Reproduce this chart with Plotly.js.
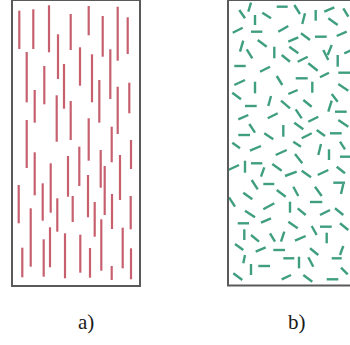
<!DOCTYPE html>
<html>
<head>
<meta charset="utf-8">
<script src="https://cdn.plot.ly/plotly-3.0.1.min.js"></script>
<style>html,body{margin:0;padding:0;background:#fff;}#chart{width:350px;height:345px;}</style>
</head>
<body>
<div id="chart"></div>
<script>
// a) aligned fibres: x position, top y, bottom y (picture units, y grows downward)
const redX = [19.3,33.3,49,70.7,88.7,102.7,117.7,127.7,26.7,58,44.3,80,64,92,110.3,34.7,99.3,129.3,56.7,70.7,117.7,26.7,88.7,111.7,131,79.3,100.7,34.7,18.7,42.7,50.7,68,57.3,72.7,88,104.7,120,112,130.7,30.7,94.7,22.3,43.7,50,65,80.3,90,101.3,111.7,122.7,131];
const redTop = [10.7,9.3,5.3,14,6,16,6.7,17.3,52,34.3,66,47.3,64,54.3,49.3,90,80,82.7,95.3,101,86.7,120,118.3,126.7,140,146.7,150,152.3,185,183.3,163.3,156,198.3,196,175,166,155,194,196,208.3,202,247.7,239.3,227.3,233.3,234.7,248,219.3,266,227.7,248.3];
const redBot = [49,49,52.3,50,35.3,56.7,60.7,54,102.3,79,104.3,85.7,108.7,102.3,99,122.7,122.7,113.3,141.7,140,134,168,160.7,162.3,169,186,187.7,195.3,223.3,220.7,212.7,196.7,231.7,222,217.3,215,200,229,229.3,266.7,236.7,277.3,276.7,267.3,278.3,272.7,277.7,270.7,280,268.3,279.3];

// b) random fibres: start and end points
const grnX0 = [239.3,251,255,262.3,276.7,294.3,305,315.7,324.3,343.3,328.3,232.7,251,278.3,288.3,301,315,336.7,243.3,246.7,257.7,274.3,289.3,281.7,297.7,308.3,323.3,331.7,337.7,344.3,234.3,260,276.7,295.7,320,338.3,234.3,255,312.3,288.3,338.3,232.3,245,271,281,303.3,331.7,331.7,335,238.3,267.7,295.7,308.3,249.3,283.3,294.3,338.3,238.3,264.3,301.7,316.7,330,
  232.3,250,275.7,293.3,321,329,340,340,295,228.3,245,251,264.3,272.3,285,301.7,317.7,336.7,251.7,263.3,276.7,293.3,315,333.3,343.3,229,243.3,310,263.3,290,297.7,320,335,245,237.7,261,288.3,311.7,320,340,244.3,251,270,284.3,295,326.7,235,255.7,273.3,310,343.3,245,283.3,299,308.3,331.7,251,258.3,233.3,281.7,303.3,326.7,341];
const grnY0 = [10,2.7,15,12.7,6.7,5,13.3,10,11.7,8.3,18.3,32.7,31.7,31.7,41.7,33.3,36.7,36,40.7,49.3,40,46.7,46.7,55,61.7,63.3,50,45,55,53.3,66,71.7,76,78.3,77.3,72.7,85,81.7,81.7,94,84,92.7,106,96,100.7,100,100.7,94,111.7,119.3,118.3,109.3,121.7,124,125,122.7,120,135,133.3,138.3,130,133.3,
  142.7,150.7,155,141.7,144,149.3,141.7,156.7,154,170,160.7,163.3,167.3,164,176,170.7,175,166.7,180,184,190,186.7,186.7,182.7,184,197.3,192.7,202,209.3,201.7,208.3,215,208.3,210.7,223.3,222.7,221.7,226,226.7,223.3,229.3,235,233.3,231.7,240.7,232.7,244,251.7,250,248.3,246,255,258.3,256.7,257.3,258.3,264,266,273.3,279.3,275,279.3,267.7];
const grnX1 = [245,248.3,255,271,287.7,300,302.3,315.7,334.3,348.3,337.7,242.7,262.3,288.3,298.3,310,326.7,346.7,240,252.3,266.7,274.3,298.3,290,307.7,317.7,328.3,327.7,337.7,351.7,245.7,270,282.3,307.7,329,351.7,245,255,312.3,297.7,348.3,241,256.7,268.3,290,311.7,328.3,337.7,346.7,248.3,277.7,301.7,318.3,255,283.3,303.3,348.3,250,273.3,311.7,325,341.7,
  240,261,286.7,301,318.3,329,345,351.7,302.3,239,245,262.3,261,281.7,296.7,311,328.3,345,257.7,274.3,285.7,298.3,321.7,345,341,235,252.3,322.3,274.3,290,305.7,330,343.3,255,249,271,297.7,316.7,331.7,348.3,244.3,259,275,281,305.7,326.7,243.3,265.7,285,318.3,340,243.3,294.3,299,313.3,341.7,251,270,242.3,291,312.3,338.3,347.7];
const grnY1 = [18.3,11.7,25,18.3,6.7,14,24,20.7,7.3,16.7,25,27.7,31.7,26,37.3,40,36.7,31.7,51.7,58.3,46.7,58.3,53.3,61.7,56.7,70.7,60,55,66.7,50,66,66.7,85,78.3,72.7,72.7,80,93.3,92.7,90,90.7,99.3,106,106,108.3,106.7,111.7,101.7,111.7,115,113.3,118.3,116.7,132.7,136.7,129.3,126.7,135,139.3,133.3,136,133.3,
  148.3,146,150,146.7,155,160,149.3,156.7,163.3,165,172.7,163.3,176.7,170.7,171.7,177.3,170,173.3,189.3,184,196.7,196,196,182.7,194,206.7,199.3,202,203.3,212.7,215,210,215,217.3,223.3,218.3,228.3,235,226.7,230,240,241.7,241.7,241.7,236,243.3,250,247.3,250,255,255,263.3,258.3,268.3,266.7,258.3,275,266,280,275,281.7,279.3,274.3];

const labels = ['a)', 'b)'];

function vertSegments(xs, y0s, y1s) {
  const x = [], y = [];
  xs.forEach((v, i) => { x.push(v, v, null); y.push(y0s[i], y1s[i], null); });
  return {x, y};
}
function segs(x0s, y0s, x1s, y1s) {
  const x = [], y = [];
  x0s.forEach((v, i) => { x.push(v, x1s[i], null); y.push(y0s[i], y1s[i], null); });
  return {x, y};
}
const r = vertSegments(redX, redTop, redBot);
const g = segs(grnX0, grnY0, grnX1, grnY1);

const data = [
  {type: 'scatter', mode: 'lines', x: r.x, y: r.y, connectgaps: false,
   line: {color: '#c6606f', width: 2.2}, hoverinfo: 'skip'},
  {type: 'scatter', mode: 'lines', x: g.x, y: g.y, connectgaps: false,
   line: {color: '#3f9e80', width: 2.4}, hoverinfo: 'skip'}
];

const labelFont = {family: 'Liberation Serif, DejaVu Serif, serif', size: 21, color: '#1a1a1a'};
const layout = {
  width: 350, height: 345,
  margin: {l: 0, r: 0, t: 0, b: 0},
  paper_bgcolor: '#ffffff', plot_bgcolor: '#ffffff',
  showlegend: false,
  xaxis: {range: [0, 350], visible: false, fixedrange: true},
  yaxis: {range: [345, 0], visible: false, fixedrange: true},
  shapes: [
    {type: 'rect', xref: 'x', yref: 'y', x0: 12, x1: 140, y0: 0, y1: 286,
     line: {color: '#5a5a5a', width: 2}},
    {type: 'rect', xref: 'x', yref: 'y', x0: 228, x1: 370, y0: 0, y1: 285.5,
     line: {color: '#5a5a5a', width: 2}}
  ],
  annotations: [
    {x: 86, y: 322, xref: 'x', yref: 'y', text: labels[0], showarrow: false, font: labelFont},
    {x: 297, y: 322, xref: 'x', yref: 'y', text: labels[1], showarrow: false, font: labelFont}
  ]
};

Plotly.newPlot('chart', data, layout, {displayModeBar: false, staticPlot: true});
</script>
</body>
</html>
